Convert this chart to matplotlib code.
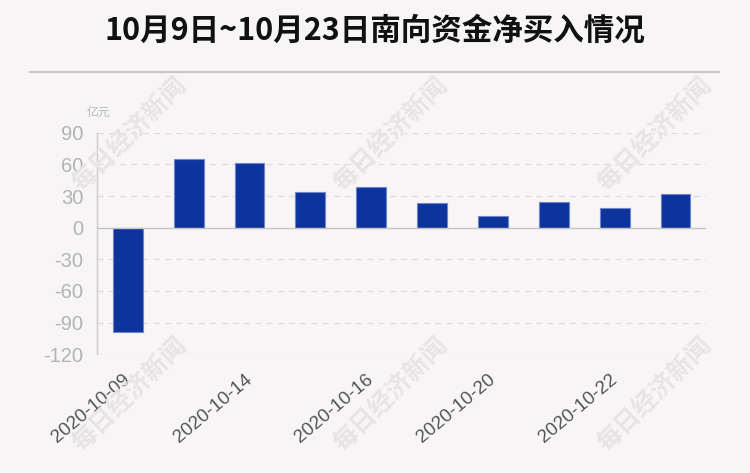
import matplotlib.pyplot as plt
from matplotlib.lines import Line2D

# data (unit: 亿元)
dates = ['2020-10-09', '2020-10-13', '2020-10-14', '2020-10-15', '2020-10-16',
         '2020-10-19', '2020-10-20', '2020-10-21', '2020-10-22', '2020-10-23']
values = [-99.0, 65.4, 60.9, 33.4, 38.2, 23.3, 10.7, 24.3, 18.9, 31.6]
y_ticks = [90, 60, 30, 0, -30, -60, -90, -120]
title = '10月9日~10月23日南向资金净买入情况'
unit = '亿元'
watermark = '每日经济新闻'

bg = '#f8f5f6'
bar_color = '#0d349d'
cjk = ['Noto Sans CJK SC', 'DejaVu Sans']

fig = plt.figure(figsize=(7.5, 4.73), dpi=100, facecolor=bg)
ax = fig.add_axes([97.3 / 750, 1 - 354.3 / 473, (706 - 97.3) / 750, (354.3 - 132.7) / 473])
ax.set_facecolor(bg)

# watermarks
for cx in [130, 391, 655]:
    for cy in [135, 395]:
        fig.text(cx / 750, 1 - cy / 473, watermark, family=cjk, fontsize=18,
                 fontweight='bold', color='#e8e4e5', rotation=45,
                 ha='center', va='center', zorder=0)

x = list(range(len(dates)))
ax.bar(x, values, width=0.49, color=bar_color, edgecolor='#6f86cc',
       linewidth=0.8, zorder=3)

ax.set_xlim(-0.5, len(dates) - 0.5)
ax.set_ylim(-120, 90)
ax.set_yticks(y_ticks)
ax.set_yticklabels([str(v) for v in y_ticks], family='Liberation Sans',
                   fontsize=14.5, color='#b3b3b3')
for v in y_ticks:
    if v != 0:
        ax.axhline(v, color='#e0dcdd', lw=0.9, ls=(0, (5, 4)), zorder=1)
ax.axhline(0, color='#c3c3c3', lw=1.0, zorder=4)

ax.set_xticks(x[::2])
ax.set_xticklabels(dates[::2], family='Liberation Sans', fontsize=13.5,
                   color='#555555', rotation=40, ha='right', va='center',
                   rotation_mode='anchor')
ax.tick_params(axis='x', length=0, pad=17)
ax.tick_params(axis='y', length=0, pad=10)

for s in ['top', 'right', 'bottom']:
    ax.spines[s].set_visible(False)
ax.spines['left'].set_color('#cccccc')
ax.spines['left'].set_linewidth(1.0)

fig.text(98 / 750, 1 - 112 / 473, unit, family=cjk, fontsize=8.5,
         color='#b8b8b8', ha='center', va='center')

fig.text(375 / 750, 1 - 31 / 473, title, family=cjk, fontsize=22,
         fontweight='bold', color='#111111', ha='center', va='center')
fig.add_artist(Line2D([30 / 750, 719 / 750], [1 - 72 / 473, 1 - 72 / 473],
                      transform=fig.transFigure, color='#c8c8c8', lw=1.6))

plt.savefig('out.png', dpi=100, facecolor=bg)
